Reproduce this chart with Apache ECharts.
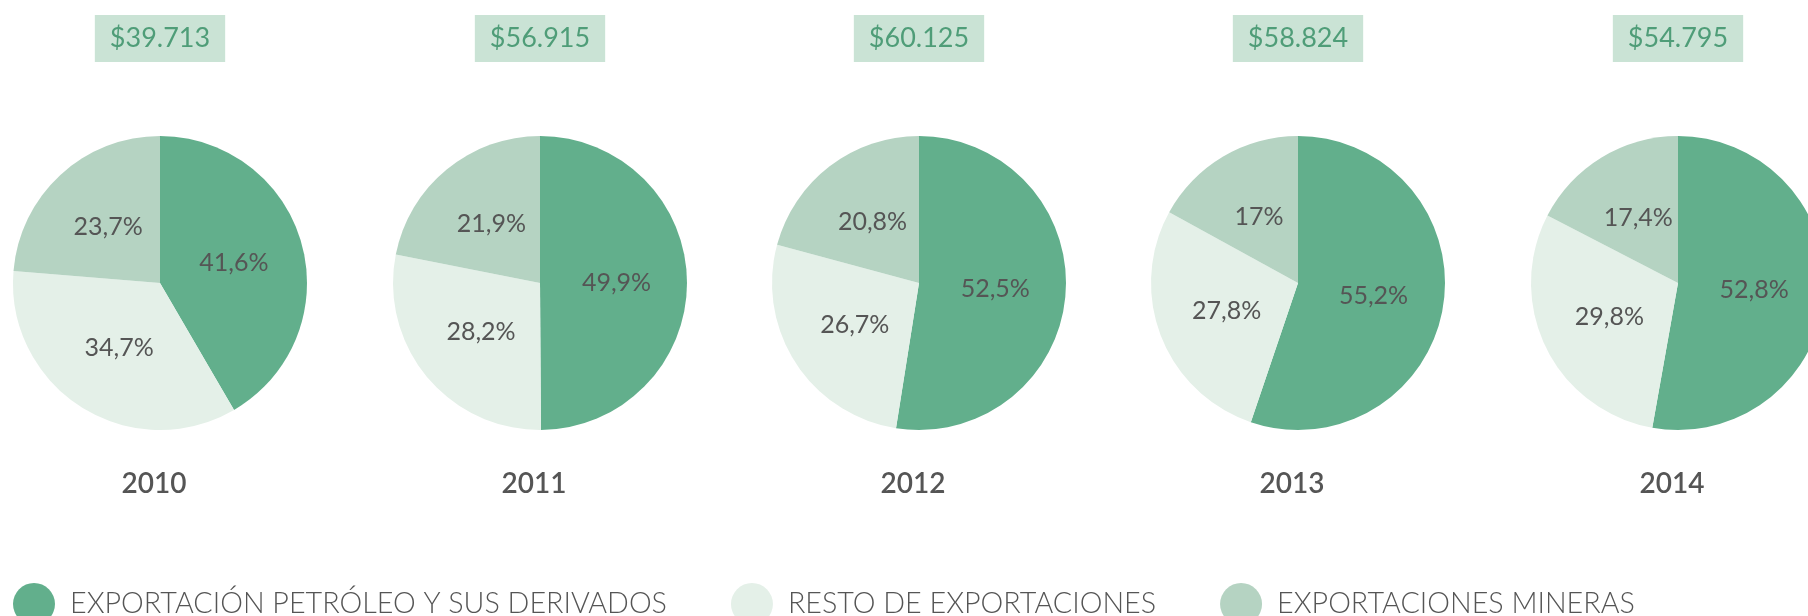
<!DOCTYPE html>
<html>
<head>
<meta charset="utf-8">
<script src="https://cdn.jsdelivr.net/npm/echarts@6/dist/echarts.min.js"></script>
<style>
  html, body { margin: 0; padding: 0; background: #fff; }
  #chart { width: 1808px; height: 616px; }
</style>
</head>
<body>
<div id="chart"></div>
<script>
const years = ['2010', '2011', '2012', '2013', '2014']
const totals = ['$39.713', '$56.915', '$60.125', '$58.824', '$54.795']
const seriesNames = ['EXPORTACIÓN PETRÓLEO Y SUS DERIVADOS', 'RESTO DE EXPORTACIONES', 'EXPORTACIONES MINERAS']
const petroleo = [41.6, 49.9, 52.5, 55.2, 52.8]
const resto = [34.7, 28.2, 26.7, 27.8, 29.8]
const mineras = [23.7, 21.9, 20.8, 17, 17.4]

const colors = ['#62af8c', '#e4f0e8', '#b5d3c2']
const centersX = [160, 540, 919, 1298, 1678]
const font = 'Lato, "Noto Sans", sans-serif'

const chart = echarts.init(document.getElementById('chart'))

const fmt = v => String(v).replace('.', ',') + '%'

const titles = []
years.forEach((y, i) => {
  // caja con el total arriba
  titles.push({
    text: totals[i],
    left: centersX[i] - 15,
    top: 15,
    textAlign: 'center',
    backgroundColor: '#cae3d5',
    padding: [10, 15, 10, 15],
    textStyle: { color: '#4f9d78', fontSize: 27, fontWeight: 'normal', fontFamily: font }
  })
  // año debajo del pie
  titles.push({
    text: y,
    left: centersX[i] - 6,
    top: 470,
    padding: 0,
    textAlign: 'center',
    textStyle: { color: '#555', fontSize: 28, fontWeight: 600, fontFamily: font }
  })
})

const series = years.map((y, i) => ({
  type: 'pie',
  name: y,
  center: [centersX[i], 283],
  radius: [0, 147],
  startAngle: 90,
  clockwise: true,
  silent: true,
  animation: false,
  label: {
    show: true,
    position: 'inside',
    formatter: p => fmt(p.value),
    color: '#555',
    fontSize: 25,
    fontFamily: font
  },
  labelLine: { show: false },
  itemStyle: { borderWidth: 0 },
  data: [
    { name: seriesNames[0], value: petroleo[i], itemStyle: { color: colors[0] } },
    { name: seriesNames[1], value: resto[i], itemStyle: { color: colors[1] } },
    { name: seriesNames[2], value: mineras[i], itemStyle: { color: colors[2] } }
  ]
}))

const option = {
  animation: false,
  title: titles,
  legend: {
    data: seriesNames,
    left: 8,
    top: 578,
    icon: 'circle',
    itemWidth: 42,
    itemHeight: 42,
    itemGap: 64,
    selectedMode: false,
    textStyle: { color: '#555', fontSize: 28.7, fontWeight: 300, fontFamily: font, padding: [0, 0, 0, 10] }
  },
  series
}

chart.setOption(option)
</script>
</body>
</html>
